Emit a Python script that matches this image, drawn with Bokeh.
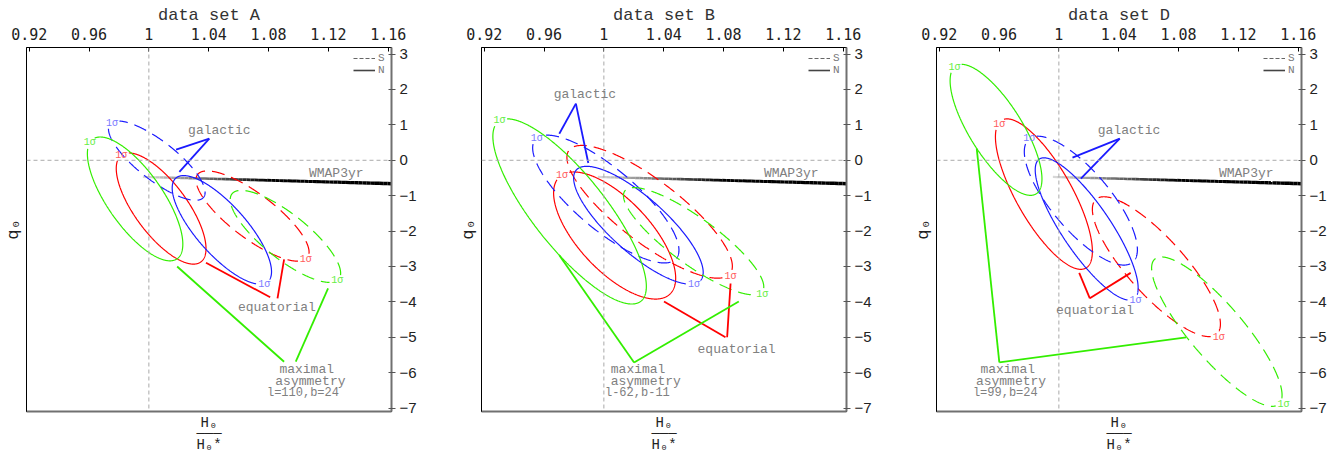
import numpy as np
from bokeh.plotting import figure
from bokeh.models import Range1d, LinearAxis, FixedTicker, Label, Span
from bokeh.layouts import row
from bokeh.embed import file_html
from bokeh.resources import INLINE

# ---------------- axes / ticks ----------------
X_TICKS = [0.92, 0.96, 1.0, 1.04, 1.08, 1.12, 1.16]
X_TICK_LABELS = ["0.92", "0.96", "1", "1.04", "1.08", "1.12", "1.16"]
Y_TICKS = [3, 2, 1, 0, -1, -2, -3, -4, -5, -6, -7]
Y_TICK_LABELS = ["3", "2", "1", "0", "\u22121", "\u22122", "\u22123", "\u22124", "\u22125", "\u22126", "\u22127"]
X_RANGE = (0.9182, 1.1622)
Y_RANGE = (-7.096, 3.186)
Y_LABEL = "q\u2080"
X_LABEL = "H\u2080\n\u2500\u2500\u2500\nH\u2080*"

PANEL_TITLES = ["data set A", "data set B", "data set D"]
# series order: equatorial N, equatorial S, galactic N, galactic S, max-asym N, max-asym S
SERIES = ["equatorial N", "equatorial S", "galactic N", "galactic S", "maximal N", "maximal S"]

# ---------------- 1-sigma contours (centre, half-extents, correlation, label spot) ----------------
A_CX = [1.0082, 1.0693, 1.0488, 1.0053, 0.9908, 1.0913]
A_CY = [-1.363, -1.575, -1.966, -0.010, -1.091, -2.150]
A_SX = [0.0300, 0.0378, 0.0332, 0.0323, 0.0319, 0.0369]
A_SY = [1.570, 1.275, 1.534, 1.120, 1.749, 1.300]
A_RHO = [-0.72, -0.80, -0.77, -0.80, -0.73, -0.80]
A_LX = [0.9816, 1.1049, 1.0771, 0.9753, 0.9604, 1.1260]
A_LY = [0.14, -2.80, -3.50, 1.05, 0.49, -3.40]

B_CX = [1.0072, 1.0306, 1.0231, 1.0013, 0.9771, 1.0600]
B_CY = [-2.125, -1.455, -1.835, -1.095, -1.445, -2.285]
B_SX = [0.0408, 0.0553, 0.0433, 0.0489, 0.0513, 0.0469]
B_SY = [1.795, 1.875, 1.665, 1.805, 2.615, 1.515]
B_RHO = [-0.67, -0.82, -0.80, -0.80, -0.81, -0.85]
B_LX = [0.9720, 1.0847, 1.0602, 0.9551, 0.9302, 1.1058]
B_LY = [-0.42, -3.27, -3.50, 0.61, 1.11, -3.78]

D_CX = [0.9900, 1.0652, 1.0186, 1.0147, 0.9580, 1.1056]
D_CY = [-0.955, -3.005, -1.940, -1.140, 0.860, -4.840]
D_SX = [0.0324, 0.0428, 0.0344, 0.0378, 0.0307, 0.0436]
D_SY = [2.125, 1.975, 2.010, 1.820, 1.850, 2.110]
D_RHO = [-0.76, -0.82, -0.83, -0.76, -0.75, -0.85]
D_LX = [0.9602, 1.1069, 1.0513, 0.9802, 0.9302, 1.1502]
D_LY = [1.02, -5.00, -3.97, 0.61, 2.63, -6.89]

# ---------------- pointer lines (x0, y0, x1, y1) ----------------
A_GAL = [(1.0404, 0.61, 1.0182, 0.30), (1.0404, 0.61, 1.0204, -0.33)]
A_EQU = [(1.0382, -2.895, 1.0811, -3.87), (1.0904, -2.80, 1.0860, -3.90)]
A_MAX = [(1.0189, -3.00, 1.0904, -5.69), (1.1198, -3.62, 1.0982, -5.69)]
B_GAL = [(0.9813, 1.60, 0.9702, 0.75), (0.9813, 1.60, 0.9896, -0.075)]
B_EQU = [(1.0402, -3.99, 1.0813, -5.00), (1.0847, -3.48, 1.0824, -5.00)]
B_MAX = [(0.9702, -2.68, 1.0202, -5.71), (1.0902, -3.99, 1.0202, -5.71)]
D_GAL = [(1.0407, 0.61, 1.0091, 0.075), (1.0407, 0.61, 1.0147, -0.52)]
D_EQU = [(1.0136, -3.18, 1.0207, -3.90), (1.0480, -3.18, 1.0207, -3.90)]
D_MAX = [(0.9451, 0.33, 0.9602, -5.71), (1.0851, -5.00, 0.9602, -5.71)]

# ---------------- annotation texts (text, x, y) ----------------
A_TEXT = [("galactic", 1.0471, 0.85), ("equatorial", 1.0856, -4.15), ("maximal", 1.1055, -5.90),
          ("asymmetry", 1.1080, -6.25), ("l=110,b=24", 1.1030, -6.56)]
B_TEXT = [("galactic", 0.9873, 1.86), ("equatorial", 1.0887, -5.34), ("maximal", 1.0229, -5.90),
          ("asymmetry", 1.0280, -6.25), ("l-62,b-11", 1.0224, -6.58)]
D_TEXT = [("galactic", 1.0469, 0.85), ("equatorial", 1.0242, -4.25), ("maximal", 0.9658, -5.90),
          ("asymmetry", 0.9680, -6.25), ("l=99,b=24", 0.9642, -6.56)]

# WMAP 3yr constraint line (endpoints)
WMAP_X = [0.996, 1.1622]
WMAP_Y = [-0.47, -0.66]
WMAP_LABEL = ("WMAP3yr", 1.107, -0.38)

# ---------------- styles ----------------
COLORS = ["#ff0000", "#ff0000", "#1a1aff", "#1a1aff", "#33ee00", "#33ee00"]
LABEL_COLORS = ["#ff5a5a", "#ff5a5a", "#7a7aff", "#7a7aff", "#66ee44", "#66ee44"]
DASHES = ["solid", "13 7", "solid", "13 7", "solid", "13 7"]
POINTER_COLORS = {"gal": "#1a1aff", "equ": "#ff0000", "max": "#33ee00"}
TXT_GRAY = "#808080"
MONO = "Liberation Mono"

FRAME_W, FRAME_H = 366, 365
PX_X = FRAME_W / (X_RANGE[1] - X_RANGE[0])
PX_Y = FRAME_H / (Y_RANGE[1] - Y_RANGE[0])


def contour(cx, cy, sx, sy, rho, lx, ly, n=721):
    t = np.linspace(0, 2 * np.pi, n)[:-1]
    x = cx + sx * np.cos(t)
    y = cy + sy * (rho * np.cos(t) + np.sqrt(1 - rho ** 2) * np.sin(t))
    dxp = (x - lx) * PX_X
    dyp = (y - ly) * PX_Y
    k = int(np.argmin(dxp ** 2 + dyp ** 2))
    x = np.roll(x, -k); y = np.roll(y, -k)
    dxp = np.roll(dxp, -k); dyp = np.roll(dyp, -k)
    gap = (dxp / 8.0) ** 2 + (dyp / 6.0) ** 2 < 1
    x = x.astype(float); y = y.astype(float)
    x[gap] = np.nan; y[gap] = np.nan
    x = np.append(x, np.nan); y = np.append(y, np.nan)
    return x, y


def make_panel(title, cxs, cys, sxs, sys_, rhos, lxs, lys, gal, equ, mx, texts):
    p = figure(width=423, height=455, x_range=Range1d(*X_RANGE), y_range=Range1d(*Y_RANGE),
               output_backend="svg", toolbar_location=None,
               x_axis_location=None, y_axis_location=None,
               min_border_left=25, min_border_right=32, min_border_top=47, min_border_bottom=43)
    p.grid.grid_line_color = None
    p.outline_line_color = "black"
    p.outline_line_width = 1
    p.background_fill_color = "white"
    p.border_fill_color = "white"

    top = LinearAxis(ticker=FixedTicker(ticks=X_TICKS),
                     major_label_overrides=dict(zip(X_TICKS, X_TICK_LABELS)))
    top.axis_line_color = None
    top.major_tick_in = 4
    top.major_tick_out = 0
    top.major_tick_line_color = "black"
    top.minor_tick_line_color = None
    top.major_label_standoff = 8
    top.major_label_text_font = "DejaVu Sans Mono"
    top.major_label_text_font_size = "15px"
    top.major_label_text_color = "#222222"
    top.axis_label = title
    top.axis_label_standoff = 0
    top.axis_label_text_font = MONO
    top.axis_label_text_font_size = "17px"
    top.axis_label_text_font_style = "normal"
    top.axis_label_text_color = "#333333"
    p.add_layout(top, "above")

    right = LinearAxis(ticker=FixedTicker(ticks=Y_TICKS),
                       major_label_overrides=dict(zip(Y_TICKS, Y_TICK_LABELS)))
    right.axis_line_color = "#707070"
    right.axis_line_width = 2
    right.major_tick_in = 3
    right.major_tick_out = 4
    right.major_tick_line_color = "#555555"
    right.minor_tick_line_color = None
    right.major_label_standoff = 4
    right.major_label_text_font = "Liberation Sans"
    right.major_label_text_font_size = "15px"
    right.major_label_text_color = "#222222"
    p.add_layout(right, "right")

    left = LinearAxis(ticker=FixedTicker(ticks=[]))
    left.axis_line_color = "black"
    left.axis_line_width = 1
    left.major_tick_line_color = None
    left.minor_tick_line_color = None
    left.major_label_text_font_size = "0px"
    left.axis_label = Y_LABEL
    left.axis_label_standoff = 4
    left.axis_label_text_font = MONO
    left.axis_label_text_font_size = "17px"
    left.axis_label_text_font_style = "normal"
    left.axis_label_text_color = "#222222"
    p.add_layout(left, "left")

    bottom = LinearAxis(ticker=FixedTicker(ticks=[]))
    bottom.axis_line_color = "#707070"
    bottom.axis_line_width = 2
    bottom.major_tick_line_color = None
    bottom.minor_tick_line_color = None
    bottom.major_label_text_font_size = "0px"
    bottom.axis_label = X_LABEL
    bottom.axis_label_standoff = 3
    bottom.axis_label_text_font = MONO
    bottom.axis_label_text_font_size = "14px"
    bottom.axis_label_text_font_style = "normal"
    bottom.axis_label_text_line_height = 0.7
    bottom.axis_label_text_color = "#222222"
    p.add_layout(bottom, "below")

    # reference lines
    p.add_layout(Span(location=1.0, dimension="height", line_color="#aaaaaa",
                      line_dash="4 3", line_width=1))
    p.add_layout(Span(location=0.0, dimension="width", line_color="#aaaaaa",
                      line_dash="4 3", line_width=1))

    # WMAP band (gradient grey -> black)
    nseg = 60
    s = np.linspace(0, 1, nseg + 1)
    wx = WMAP_X[0] + (WMAP_X[1] - WMAP_X[0]) * s
    wy = WMAP_Y[0] + (WMAP_Y[1] - WMAP_Y[0]) * s
    for i in range(nseg):
        f = min(1.0, s[i] / 0.5)
        g = int(215 * (1 - f))
        p.line([wx[i], wx[i + 1]], [wy[i], wy[i + 1]], line_color="#%02x%02x%02x" % (g, g, g),
               line_width=2.2 + 1.3 * s[i], line_cap="butt")
    p.add_layout(Label(x=WMAP_LABEL[1], y=WMAP_LABEL[2], text=WMAP_LABEL[0], text_font=MONO,
                       text_font_size="13px", text_color=TXT_GRAY, text_baseline="middle",
                       text_align="left"))

    # contours
    for i in range(6):
        x, y = contour(cxs[i], cys[i], sxs[i], sys_[i], rhos[i], lxs[i], lys[i])
        p.line(x, y, line_color=COLORS[i], line_width=1.2, line_dash=DASHES[i])
        p.add_layout(Label(x=lxs[i], y=lys[i], text="1\u03c3", text_font=MONO, text_font_size="10px",
                           text_color=LABEL_COLORS[i], text_align="center", text_baseline="middle"))

    # pointer lines
    for segs, key in ((gal, "gal"), (equ, "equ"), (mx, "max")):
        p.segment(x0=[sg[0] for sg in segs], y0=[sg[1] for sg in segs],
                  x1=[sg[2] for sg in segs], y1=[sg[3] for sg in segs],
                  line_color=POINTER_COLORS[key], line_width=1.8)

    for txt, tx, ty in texts:
        small = txt.startswith("l")
        p.add_layout(Label(x=tx, y=ty, text=txt, text_font=MONO,
                           text_font_size="12px" if small else "13px", text_color=TXT_GRAY,
                           text_align="center", text_baseline="middle"))

    # legend S / N
    p.line(x=[np.nan], y=[np.nan], line_color="#666666", line_dash="4 2", line_width=1.2, legend_label="S")
    p.line(x=[np.nan], y=[np.nan], line_color="#444444", line_width=1.6, legend_label="N")
    lg = p.legend[0]
    lg.location = "top_right"
    lg.margin = 5
    lg.padding = 0
    lg.spacing = 0
    lg.glyph_width = 22
    lg.glyph_height = 10
    lg.label_height = 10
    lg.label_width = 8
    lg.label_standoff = 3
    lg.label_text_font = MONO
    lg.label_text_font_size = "11px"
    lg.label_text_line_height = 0.9
    lg.label_text_color = "#777777"
    lg.border_line_color = None
    lg.background_fill_alpha = 0
    return p


pA = make_panel(PANEL_TITLES[0], A_CX, A_CY, A_SX, A_SY, A_RHO, A_LX, A_LY, A_GAL, A_EQU, A_MAX, A_TEXT)
pB = make_panel(PANEL_TITLES[1], B_CX, B_CY, B_SX, B_SY, B_RHO, B_LX, B_LY, B_GAL, B_EQU, B_MAX, B_TEXT)
pD = make_panel(PANEL_TITLES[2], D_CX, D_CY, D_SX, D_SY, D_RHO, D_LX, D_LY, D_GAL, D_EQU, D_MAX, D_TEXT)

layout = row(pA, pB, pD, spacing=32)
open("out.html", "w").write(file_html(layout, INLINE))
